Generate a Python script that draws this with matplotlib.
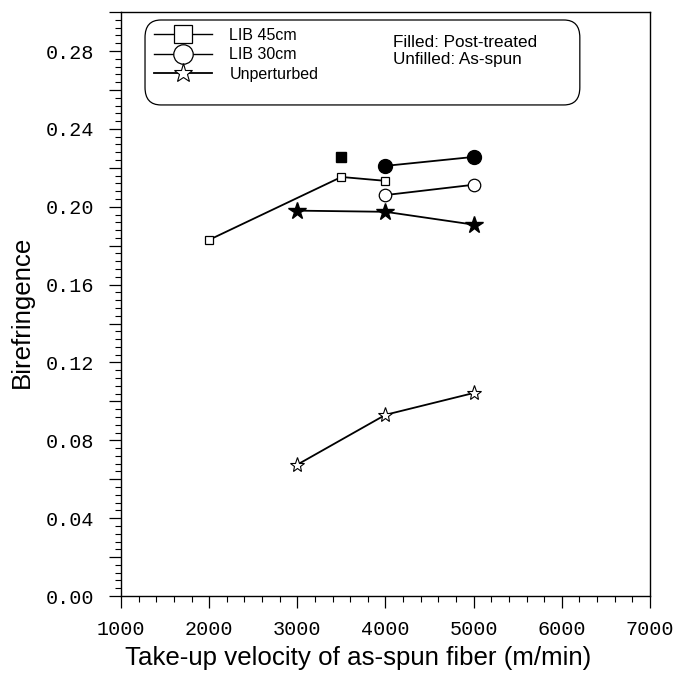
import matplotlib
matplotlib.use('Agg')
import matplotlib.pyplot as plt
from matplotlib.lines import Line2D
from matplotlib.patches import FancyBboxPatch
from matplotlib.ticker import MultipleLocator, FuncFormatter

# take-up velocity (m/min) and birefringence for each fiber set
lib45_v = [2000, 3500, 4000]
lib45_as_spun = [0.183, 0.2153, 0.2133]
lib45_post_v = [3500]
lib45_post = [0.2256]

lib30_v = [4000, 5000]
lib30_as_spun = [0.206, 0.2113]
lib30_post = [0.221, 0.2256]

unpert_v = [3000, 4000, 5000]
unpert_as_spun = [0.0675, 0.0931, 0.1043]
unpert_post = [0.198, 0.1974, 0.1908]

legend_labels = ['LIB 45cm', 'LIB 30cm', 'Unperturbed']
note_lines = ['Filled: Post-treated', 'Unfilled: As-spun']

sans = 'Liberation Sans'
mono = 'Liberation Mono'

fig = plt.figure(figsize=(6.76, 6.73), dpi=100)
ax = fig.add_axes([0.179, 0.1144, 0.7825, 0.8676])

lw = 1.3
ax.plot(lib45_v, lib45_as_spun, '-s', color='black', lw=lw, ms=6, mfc='white', mew=0.9)
ax.plot(lib45_post_v, lib45_post, 's', color='black', ms=6.5)
ax.plot(lib30_v, lib30_as_spun, '-o', color='black', lw=lw, ms=9, mfc='white', mew=0.9)
ax.plot(lib30_v, lib30_post, '-o', color='black', lw=lw, ms=10)
ax.plot(unpert_v, unpert_as_spun, '-*', color='black', lw=lw, ms=11, mfc='white', mew=0.8)
ax.plot(unpert_v, unpert_post, '-*', color='black', lw=lw, ms=13)

ax.set_xlim(1000, 7000)
ax.set_ylim(0, 0.30)
ax.xaxis.set_major_locator(MultipleLocator(1000))
ax.xaxis.set_minor_locator(MultipleLocator(200))
ax.yaxis.set_major_locator(MultipleLocator(0.02))
ax.yaxis.set_minor_locator(MultipleLocator(0.004))
ax.yaxis.set_major_formatter(FuncFormatter(
    lambda v, p: '%.2f' % v if round(v / 0.02) % 2 == 0 else ''))

ax.tick_params(which='major', direction='out', length=8.5, width=0.9)
ax.tick_params(which='minor', direction='out', length=4.5, width=0.8)
ax.tick_params(axis='y', which='major', pad=11)
ax.tick_params(axis='x', which='major', pad=9)
for lab in ax.get_xticklabels() + ax.get_yticklabels():
    lab.set_fontfamily(mono)
    lab.set_fontsize(14.5)
for s in ax.spines.values():
    s.set_linewidth(1.0)

ax.set_xlabel('Take-up velocity of as-spun fiber (m/min)', fontfamily=sans,
              fontsize=18.6)
ax.set_ylabel('Birefringence', fontfamily=sans, fontsize=18.6)
ax.xaxis.set_label_coords(0.448, -0.0856)
ax.yaxis.set_label_coords(-0.1645, 0.486)

# rounded legend box holding both the marker keys and the fill note
box = FancyBboxPatch((0.0454, 0.841), 0.822, 0.1455, transform=ax.transAxes,
                     boxstyle='round,pad=0,rounding_size=0.03',
                     facecolor='white', edgecolor='black', lw=0.9, zorder=5)
ax.add_patch(box)

handles = [
    Line2D([], [], color='black', lw=1.0, marker='s', ms=13, mfc='white', mew=0.9),
    Line2D([], [], color='black', lw=1.0, marker='o', ms=14, mfc='white', mew=0.9),
    Line2D([], [], color='black', lw=1.3, marker='*', ms=14, mfc='white', mew=0.8),
]
leg = ax.legend(handles, legend_labels, loc='upper left',
                bbox_to_anchor=(0.039, 0.995), frameon=False,
                prop={'family': sans, 'size': 11.5}, handlelength=3.6,
                handletextpad=1.1, labelspacing=0.28, borderpad=0.3)
leg.set_zorder(6)

ax.text(0.515, 0.961, '\n'.join(note_lines), transform=ax.transAxes,
        fontfamily=sans, fontsize=12.3, va='top', ha='left',
        linespacing=1.2, zorder=6)

fig.savefig('out.png', dpi=100)
